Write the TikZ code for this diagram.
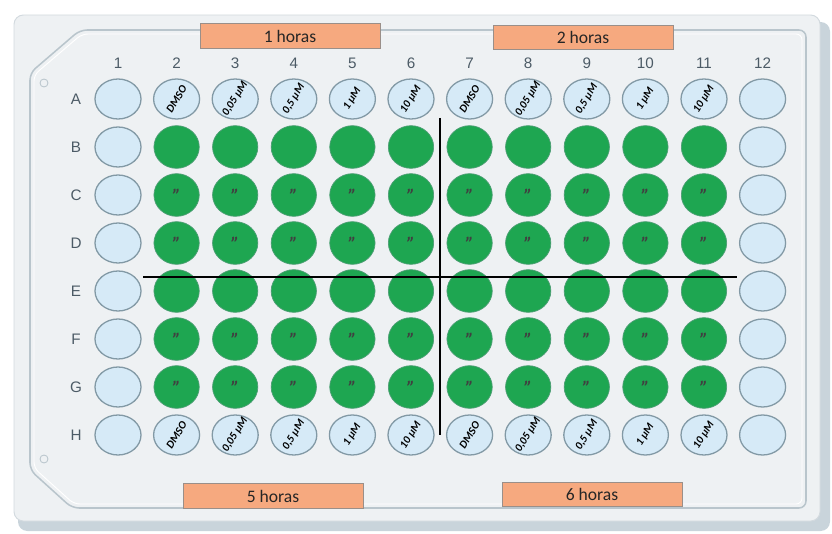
\documentclass[tikz,border=0pt]{standalone}
\usepackage{fontspec}
\setmainfont{Carlito}
\newfontfamily\platefont{Liberation Sans}
\usepackage{tikz}
\usetikzlibrary{positioning,shapes.geometric}
\definecolor{platebg}{HTML}{EEF1F3}
\definecolor{plateside}{HTML}{C9D4DB}
\definecolor{platerim}{HTML}{D3DADF}
\definecolor{innerrim}{HTML}{B9C5CC}
\definecolor{wellblue}{HTML}{D6EAF7}
\definecolor{wellrim}{HTML}{8299A5}
\definecolor{wellgreen}{HTML}{1EA651}
\definecolor{greenrim}{HTML}{4E9E75}
\definecolor{boxorange}{HTML}{F6A97F}
\definecolor{boxrim}{HTML}{9A8F89}
\definecolor{labelgray}{HTML}{4C5B66}

\begin{document}
\begin{tikzpicture}[x=0.03cm,y=-0.03cm,
    emptywell/.style={ellipse,draw=wellrim,line width=1.1pt,fill=wellblue,
        minimum width=1.38cm,minimum height=1.2cm,inner sep=0pt},
    greenwell/.style={ellipse,draw=greenrim,line width=0.6pt,fill=wellgreen,
        minimum width=1.36cm,minimum height=1.28cm,inner sep=0pt},
    welltext/.style={rotate=58,inner sep=0pt,font=\fontsize{9.5}{9.5}\selectfont\bfseries\itshape},
    ditto/.style={inner sep=0pt,font=\fontsize{16}{16}\selectfont\bfseries\itshape,text=black!75},
    gridlabel/.style={text=labelgray,font=\platefont\fontsize{13}{13}\selectfont},
    timebox/.style={draw=boxrim,line width=0.7pt,fill=boxorange,minimum width=5.4cm,
        minimum height=0.73cm,inner sep=0pt,font=\fontsize{15}{15}\selectfont,text=black!85},
    divider/.style={line width=1.3pt,black}]
  \useasboundingbox (0,0) rectangle (832,534);

  % plate body
  \fill[plateside,rounded corners=8] (18,22) rectangle (830,531);
  \filldraw[fill=platebg,draw=platerim,line width=0.8pt,rounded corners=8] (14,15) rectangle (820,521);
  \filldraw[fill=platebg,draw=innerrim,line width=1.3pt,rounded corners=6]
    (80,30) -- (806,30) -- (806,508) -- (72,508) -- (30,470) -- (30,73) -- cycle;
  \draw[white,line width=0.8pt,rounded corners=5]
    (82,34) -- (802,34) -- (802,504) -- (74,504) -- (34,468) -- (34,75) -- cycle;
  \draw[innerrim,line width=0.7pt] (44,83) circle (4) (44,459) circle (4);

  % time labels
  \node[timebox] (h1) at (290,36) {1 horas};
  \node[timebox] (h2) at (583,37.5) {2 horas};
  \node[timebox] (h5) at (273,496) {5 horas};
  \node[timebox] (h6) at (592,494.5) {6 horas};

  % column numbers and row letters
  \foreach \c in {1,...,12}
    \node[gridlabel] (col\c) at ({118+58.6*(\c-1)},63) {\c};
  \foreach \r [count=\i] in {A,B,C,D,E,F,G,H}
    \node[gridlabel] (row\r) at (76,{99+48*(\i-1)}) {\r};

  % empty wells, columns 1 and 12
  \foreach \r [count=\i] in {A,B,C,D,E,F,G,H}
    \foreach \c in {1,12}
      \node[emptywell] (\r\c) at ({118+58.6*(\c-1)},{99+48*(\i-1)}) {};

  % treated wells
  \foreach \r [count=\i from 2] in {B,C,D,E,F,G}
    \foreach \c in {2,...,11}
      \node[greenwell] (\r\c) at ({118+58.6*(\c-1)},{99+48*(\i-1)}) {};
  \foreach \r in {C,D,F,G}
    \foreach \c in {2,...,11}
      \node[ditto] at ([yshift=-1pt]\r\c) {"};

  % concentration wells, rows A and H
  \foreach \lbl [count=\k] in {DMSO,{0,05 µM},{0,5 µM},{1 µM},{10 µM}} {
    \pgfmathtruncatemacro\ca{\k+1}
    \pgfmathtruncatemacro\cb{\k+6}
    \foreach \c in {\ca,\cb} {
      \node[emptywell] (A\c) at ({118+58.6*(\c-1)},99) {};
      \node[emptywell] (H\c) at ({118+58.6*(\c-1)},435) {};
      \node[welltext] at (A\c) {\lbl};
      \node[welltext] at (H\c) {\lbl};
    }
  }

  % quadrant dividers
  \coordinate (vtop) at (440,118);
  \coordinate (vbot) at (440,435);
  \coordinate (hleft) at (143,277);
  \coordinate (hright) at (737,277);
  \draw[divider] (vtop) -- (vbot);
  \draw[divider] (hleft) -- (hright);
\end{tikzpicture}
\end{document}
